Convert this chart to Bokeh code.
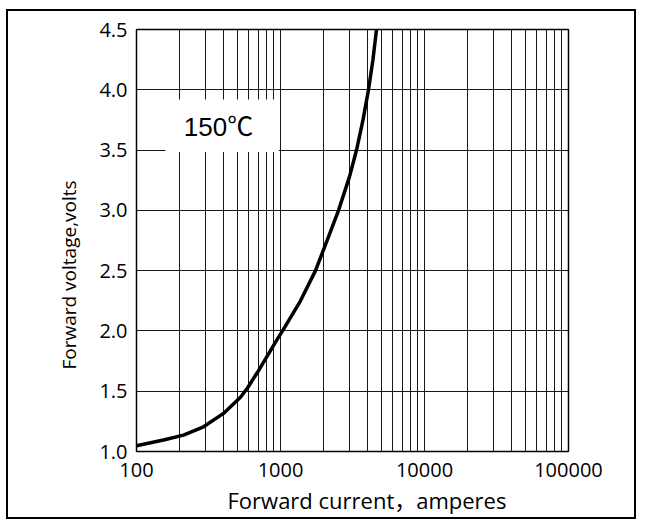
from bokeh.plotting import figure
from bokeh.layouts import column
from bokeh.models import Range1d, FixedTicker, CustomJSTickFormatter, NumeralTickFormatter, BoxAnnotation, Label, Title
from bokeh.embed import file_html
from bokeh.resources import INLINE

# Forward characteristic at 150 C
current_a = [100, 154, 212, 292, 402, 527, 590, 692, 812, 953, 1033, 1377, 1750, 2154, 2529, 3015, 3373, 3741, 4084, 4385, 4642]
voltage_v = [1.047, 1.095, 1.136, 1.205, 1.316, 1.45, 1.527, 1.657, 1.795, 1.934, 2.0, 2.25, 2.5, 2.78, 3.0, 3.28, 3.5, 3.75, 4.0, 4.25, 4.5]

x_major = [100, 1000, 10000, 100000]
x_minor = [m * d for d in (100, 1000, 10000) for m in range(2, 10)]
y_ticks = [1.0, 1.5, 2.0, 2.5, 3.0, 3.5, 4.0, 4.5]

x_label = "Forward current，amperes"
y_label = "Forward voltage,volts"
temp_label = "150℃"

FONT = "'Open Sans', 'Noto Sans CJK SC'"

p = figure(width=630, height=510, x_axis_type="log",
           x_range=Range1d(100, 100000), y_range=Range1d(1.0, 4.5),
           output_backend="svg", toolbar_location=None,
           min_border_left=128, min_border_right=70, min_border_top=18, min_border_bottom=70)
p.styles = {"border": "2px solid black"}

p.outline_line_color = "black"
p.outline_line_width = 1.5

p.xaxis.ticker = FixedTicker(ticks=x_major, minor_ticks=x_minor)
p.yaxis.ticker = FixedTicker(ticks=y_ticks)
p.xaxis.formatter = CustomJSTickFormatter(code="return tick.toFixed(0);")
p.yaxis.formatter = NumeralTickFormatter(format="0.0")

for ax in (p.xaxis, p.yaxis):
    ax.major_tick_line_color = None
    ax.minor_tick_line_color = None
    ax.axis_line_color = "black"
    ax.major_label_text_font = FONT
    ax.major_label_text_font_size = "20px"
    ax.major_label_text_color = "black"

p.xaxis.major_label_standoff = 5
p.yaxis.major_label_standoff = 3

p.xgrid.ticker = FixedTicker(ticks=x_major, minor_ticks=x_minor)
p.xgrid.grid_line_color = "black"
p.xgrid.grid_line_alpha = 0.9
p.xgrid.minor_grid_line_color = "black"
p.xgrid.minor_grid_line_alpha = 0.9
p.ygrid.ticker = FixedTicker(ticks=y_ticks)
p.ygrid.grid_line_color = "black"
p.ygrid.grid_line_alpha = 0.9

# axis titles, offset along the axis as in the original
p.add_layout(Title(text=x_label, align="left", offset=91, standoff=6,
                   text_font=FONT, text_font_size="22px", text_font_style="normal",
                   text_color="black"), "below")
p.add_layout(Title(text=y_label, align="left", offset=82, standoff=30,
                   text_font=FONT, text_font_size="19px", text_font_style="normal",
                   text_color="black"), "left")

p.add_layout(BoxAnnotation(left=159, right=975, bottom=3.485, top=3.92,
                           fill_color="white", fill_alpha=1.0, line_color=None))
p.add_layout(Label(x=371, y=3.69, text=temp_label, text_font="'Liberation Sans', 'Noto Sans CJK SC'",
                   text_font_size="26px", text_color="black",
                   text_align="center", text_baseline="middle"))

p.line(current_a, voltage_v, line_color="black", line_width=3.5, line_join="round", line_cap="round")

layout = column(p, styles={"padding": "9px 8px 9px 6px", "background": "white"})

open("out.html", "w").write(file_html(layout, INLINE))
